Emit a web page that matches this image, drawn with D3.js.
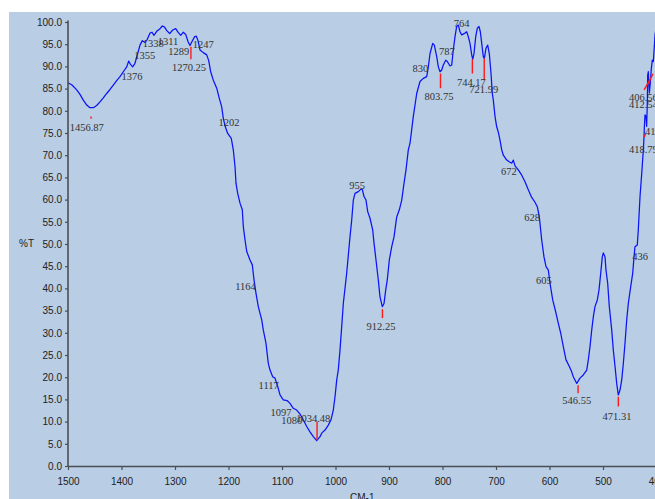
<!DOCTYPE html>
<html>
<head>
<meta charset="utf-8">
<script src="https://cdn.jsdelivr.net/npm/d3@7"></script>
<style>
  html, body { margin: 0; padding: 0; background: #ffffff; }
  svg { display: block; }
</style>
</head>
<body>
<svg id="chart" width="655" height="499"></svg>
<script>
// IR spectrum: wavenumber (cm-1) vs transmittance (%T)
const wavenumber = [
  1500.0, 1492.5, 1483.7, 1477.6, 1471.4, 1465.0, 1458.9, 1452.7, 1446.4, 1440.2,
  1434.0, 1427.7, 1421.5, 1415.3, 1409.0, 1402.8, 1396.6, 1390.3, 1386.5, 1383.5,
  1379.1, 1374.8, 1369.7, 1365.4, 1361.1, 1356.1, 1351.8, 1346.7, 1343.0, 1339.3,
  1333.6, 1328.0, 1323.7, 1320.0, 1314.9, 1309.9, 1304.3, 1298.7, 1294.4, 1289.3,
  1284.5, 1280.0, 1275.7, 1272.0, 1268.2, 1263.2, 1260.2, 1257.0, 1253.3, 1247.1,
  1240.7, 1237.0, 1233.3, 1228.4, 1222.0, 1217.2, 1212.7, 1209.7, 1206.0, 1201.5,
  1194.8, 1191.0, 1187.8, 1186.0, 1182.8, 1178.5, 1174.2, 1172.3, 1169.1, 1165.9,
  1159.8, 1155.5, 1152.3, 1148.6, 1144.3, 1137.9, 1134.9, 1129.9, 1125.6, 1122.4,
  1117.4, 1113.1, 1108.0, 1103.7, 1097.6, 1090.1, 1085.0, 1078.9, 1072.5, 1066.3,
  1060.2, 1053.8, 1047.7, 1041.5, 1035.1, 1028.9, 1025.8, 1019.6, 1013.4, 1008.4,
  1004.1, 1000.9, 997.7, 994.8, 991.6, 988.4, 985.4, 979.1, 972.9, 969.7,
  966.7, 963.5, 957.4, 952.9, 949.9, 946.7, 943.0, 939.8, 935.5, 930.5,
  928.0, 924.3, 920.0, 916.8, 912.5, 909.3, 906.2, 903.2, 899.4, 894.9,
  890.6, 885.6, 880.7, 876.2, 871.9, 868.2, 863.9, 860.7, 854.6, 848.2,
  842.1, 835.9, 829.5, 826.5, 823.3, 818.3, 815.3, 810.8, 807.8, 804.6,
  801.5, 798.5, 794.0, 791.0, 786.0, 782.8, 779.8, 776.6, 773.5, 770.4,
  767.3, 764.1, 757.9, 754.8, 751.8, 748.6, 745.4, 743.5, 741.1, 737.9,
  734.9, 731.8, 729.3, 726.7, 723.7, 721.8, 718.7, 715.5, 712.5, 709.3,
  706.9, 705.0, 701.8, 698.7, 695.7, 692.5, 689.3, 686.3, 680.0, 673.8,
  670.6, 667.6, 664.5, 658.3, 651.9, 645.8, 639.6, 633.3, 627.1, 622.8,
  619.0, 614.6, 610.3, 606.5, 602.2, 599.0, 594.0, 587.8, 583.5, 579.0,
  574.2, 569.1, 562.9, 558.5, 555.5, 549.1, 543.0, 536.8, 530.4, 527.5,
  524.3, 521.1, 518.1, 515.0, 510.6, 507.5, 504.3, 501.3, 499.4, 496.2,
  494.4, 491.2, 488.2, 483.7, 480.7, 477.5, 474.4, 471.4, 468.2, 465.0,
  462.0, 458.9, 455.7, 452.7, 448.2, 444.5, 442.0, 440.2, 435.9, 434.0,
  430.8, 427.6, 424.6, 423.3, 422.8, 421.5, 419.6, 418.4, 417.2, 416.5,
  415.3, 413.4, 411.6, 409.7, 407.8, 405.9, 404.6, 402.7, 400.0
];
const transmittance = [
  86.3, 85.8, 84.7, 83.7, 82.4, 81.3, 80.7, 80.7, 81.2, 82.0,
  82.9, 83.9, 84.8, 85.8, 86.8, 87.7, 88.8, 89.9, 91.2, 90.5,
  89.9, 90.7, 92.9, 94.8, 95.8, 95.4, 96.1, 97.5, 97.7, 97.0,
  98.0, 98.5, 99.1, 98.9, 98.0, 97.4, 98.2, 98.5, 97.7, 97.0,
  97.7, 97.2, 95.6, 94.7, 95.6, 96.7, 96.8, 95.8, 93.7, 93.1,
  92.6, 91.3, 88.8, 86.9, 85.1, 82.8, 80.9, 78.3, 76.4, 74.9,
  73.8, 71.2, 67.4, 63.7, 61.4, 59.2, 57.7, 53.9, 50.9, 48.3,
  46.4, 45.3, 41.9, 38.9, 35.9, 32.9, 30.6, 27.6, 23.1, 21.6,
  20.1, 19.8, 17.9, 16.0, 14.9, 14.7, 14.1, 13.0, 12.6, 11.7,
  10.4, 8.9, 7.7, 6.6, 5.7, 6.6, 7.4, 8.1, 9.2, 10.4,
  12.6, 15.6, 19.4, 21.6, 26.1, 31.4, 36.6, 43.4, 51.6, 55.4,
  59.9, 61.4, 61.8, 62.3, 62.3, 60.7, 59.9, 57.3, 55.8, 53.2,
  50.2, 46.4, 41.9, 38.1, 35.9, 36.6, 39.6, 41.9, 46.4, 49.4,
  51.6, 56.1, 57.7, 59.9, 63.7, 66.7, 71.2, 72.7, 78.7, 83.9,
  86.6, 87.3, 87.7, 89.9, 92.9, 95.2, 94.8, 92.2, 89.9, 88.8,
  89.2, 90.3, 91.4, 91.1, 90.1, 90.3, 93.7, 96.7, 99.0, 99.3,
  97.8, 97.1, 97.5, 97.8, 96.7, 95.2, 92.6, 91.6, 92.9, 96.7,
  98.6, 99.0, 97.8, 95.2, 92.2, 91.8, 94.1, 94.8, 92.9, 88.4,
  83.9, 82.4, 78.7, 76.4, 75.2, 73.4, 71.2, 70.0, 68.9, 68.4,
  68.2, 68.9, 67.6, 66.7, 65.5, 64.0, 62.2, 60.5, 59.4, 58.4,
  56.1, 50.9, 47.1, 44.9, 44.1, 41.1, 37.4, 34.4, 32.1, 29.9,
  26.9, 23.9, 22.4, 21.2, 20.1, 18.6, 19.8, 20.5, 21.6, 23.9,
  26.9, 30.6, 33.6, 35.9, 37.4, 39.6, 43.4, 47.1, 48.0, 47.1,
  44.1, 41.1, 35.9, 30.6, 26.1, 22.4, 18.6, 16.0, 17.1, 19.4,
  23.1, 27.6, 32.9, 36.6, 40.4, 43.4, 47.1, 49.4, 49.8, 53.2,
  60.7, 65.9, 71.2, 74.2, 76.0, 79.1, 78.7, 76.5, 81.7, 88.0,
  88.8, 84.0, 86.2, 89.5, 91.4, 91.1, 93.5, 97.2, 99.0
];

// Axis ticks
const xTicks = [1500, 1400, 1300, 1200, 1100, 1000, 900, 800, 700, 600, 500, 400];
const yTicks = [0, 5, 10, 15, 20, 25, 30, 35, 40, 45, 50, 55, 60, 65, 70, 75, 80, 85, 90, 95, 100];

// Band labels: text and anchor (wavenumber, %T) of the label centre
const bandText = ["1456.87", "1376", "1355", "1338", "1311", "1289", "1247", "1270.25", "1202",
  "1164", "1117", "1097", "1080", "1034.48", "955", "912.25", "830", "787", "764", "803.75",
  "744.17", "721.99", "672", "628", "605", "546.55", "471.31", "436", "418.79", "415.29",
  "406.56", "412.54"];
const bandWn = [1465.0, 1380.4, 1356.6, 1340.6, 1313.1, 1292.9, 1247.1, 1273.8, 1199.1,
  1168.2, 1124.9, 1101.9, 1081.9, 1041.5, 959.8, 914.9, 841.5, 791.6, 764.1, 806.5,
  746.1, 722.8, 676.1, 632.7, 610.6, 549.1, 473.8, 430.8, 424.5, 394.5,
  424.5, 424.5];
const bandT = [76.3, 87.7, 92.5, 95.2, 95.6, 93.3, 95.0, 89.7, 77.3,
  40.4, 18.2, 12.2, 10.2, 10.7, 63.2, 31.5, 89.6, 93.5, 99.7, 83.2,
  86.5, 84.8, 66.3, 56.1, 41.9, 14.7, 11.3, 47.3, 71.4, 75.3,
  83.0, 81.5];

// Peak markers: segments from (wn1, t1) to (wn2, t2)
const markWn1 = [1456.87, 1270.25, 1034.48, 912.25, 803.75, 744.17, 721.99, 546.55, 471.31, 422.8, 423.3, 417.7];
const markT1  = [78.7, 94.4, 10.0, 35.3, 88.4, 91.6, 91.8, 18.2, 15.6, 74.1, 84.7, 85.8];
const markWn2 = [1456.87, 1270.25, 1034.48, 912.25, 803.75, 744.17, 721.99, 546.55, 471.31, 420.2, 412.1, 406.5];
const markT2  = [78.2, 91.6, 5.9, 33.3, 85.1, 88.4, 86.9, 16.4, 13.4, 74.9, 86.9, 88.3];

const W = 655, H = 499;
const svg = d3.select("#chart");

// plot panel background
svg.append("rect")
  .attr("x", 9).attr("y", 12)
  .attr("width", W - 9).attr("height", H - 12)
  .attr("fill", "#b9cde5");

const x = d3.scaleLinear().domain([1500, 400]).range([68, 656.5]);
const y = d3.scaleLinear().domain([0, 100]).range([466, 22]);

// spectrum
const pts = wavenumber.map((w, i) => [w, transmittance[i]]);
const line = d3.line().x(d => x(d[0])).y(d => y(d[1])).curve(d3.curveLinear);
svg.append("path")
  .datum(pts)
  .attr("d", line)
  .attr("fill", "none")
  .attr("stroke", "#0a14f5")
  .attr("stroke-width", 1.25)
  .attr("stroke-linejoin", "round");

// peak markers
svg.append("g").selectAll("line")
  .data(markWn1.map((w, i) => i))
  .join("line")
  .attr("x1", i => x(markWn1[i])).attr("y1", i => y(markT1[i]))
  .attr("x2", i => x(markWn2[i])).attr("y2", i => y(markT2[i]))
  .attr("stroke", "#ff1a1a")
  .attr("stroke-width", 1.4);

// band labels
svg.append("g").selectAll("text")
  .data(bandText)
  .join("text")
  .attr("x", (d, i) => x(bandWn[i]))
  .attr("y", (d, i) => y(bandT[i]))
  .attr("dy", "0.35em")
  .attr("text-anchor", "middle")
  .attr("font-family", "'Liberation Serif', 'Times New Roman', serif")
  .attr("font-size", "10.5px")
  .attr("fill", "#333333")
  .text(d => d);

// axes
const xAxis = d3.axisBottom(x)
  .tickValues(xTicks)
  .tickFormat(d3.format("d"))
  .tickSize(4).tickPadding(8).tickSizeOuter(0);
const yAxis = d3.axisLeft(y)
  .tickValues(yTicks)
  .tickFormat(d3.format(".1f"))
  .tickSize(3).tickPadding(3).tickSizeOuter(0);

const gx = svg.append("g").attr("transform", "translate(0,466)").call(xAxis);
const gy = svg.append("g").attr("transform", "translate(68,0)").call(yAxis);

[gx, gy].forEach(g => {
  g.select(".domain").attr("stroke", "#4a4f57").attr("stroke-width", 1.6);
  g.selectAll(".tick line").attr("stroke", "#4a4f57").attr("stroke-width", 1.2);
  g.selectAll(".tick text")
    .attr("font-family", "'Liberation Sans', Arial, sans-serif")
    .attr("font-size", "10px")
    .attr("fill", "#222222");
});
gy.select(".domain").attr("d", "M0,20.5V466");

// axis titles
svg.append("text")
  .attr("x", 34).attr("y", y(50)).attr("dy", "0.32em")
  .attr("text-anchor", "end")
  .attr("font-family", "'Liberation Sans', Arial, sans-serif")
  .attr("font-size", "10px").attr("fill", "#222222")
  .text("%T");
svg.append("text")
  .attr("x", (x(1500) + x(400)) / 2).attr("y", 500.5)
  .attr("text-anchor", "middle")
  .attr("font-family", "'Liberation Sans', Arial, sans-serif")
  .attr("font-size", "10px").attr("fill", "#222222")
  .text("CM-1");
</script>
</body>
</html>
